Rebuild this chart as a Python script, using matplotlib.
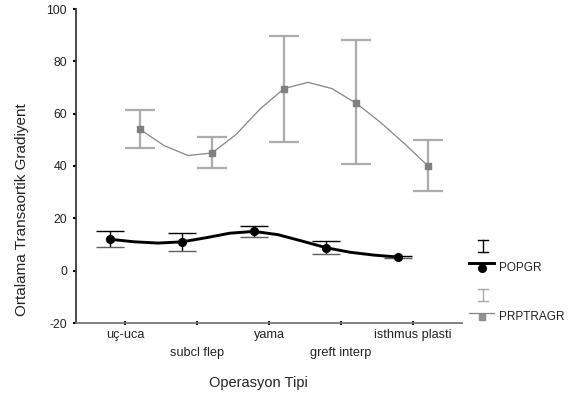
import numpy as np
import matplotlib
matplotlib.use("Agg")
import matplotlib.pyplot as plt
from matplotlib.lines import Line2D

plt.rcParams['font.family'] = ['Liberation Sans', 'DejaVu Sans']

categories = ["uç-uca", "subcl flep", "yama", "greft interp", "isthmus plasti"]
popgr_mean = [12.0, 11.0, 15.0, 8.8, 5.2]
popgr_low = [9.0, 7.4, 12.7, 6.5, 4.9]
popgr_high = [15.2, 14.3, 17.0, 11.3, 5.5]
prp_mean = [54.0, 45.0, 69.6, 64.0, 40.0]
prp_low = [46.7, 39.4, 49.3, 40.7, 30.3]
prp_high = [61.3, 51.0, 89.6, 88.0, 49.8]
yticks = [-20, 0, 20, 40, 60, 80, 100]


def natural_spline(x, y, sub=3):
    x = np.asarray(x, float); y = np.asarray(y, float)
    n = len(x); h = np.diff(x)
    A = np.zeros((n, n)); b = np.zeros(n)
    A[0, 0] = A[-1, -1] = 1
    for i in range(1, n - 1):
        A[i, i - 1] = h[i - 1]; A[i, i] = 2 * (h[i - 1] + h[i]); A[i, i + 1] = h[i]
        b[i] = 3 * ((y[i + 1] - y[i]) / h[i] - (y[i] - y[i - 1]) / h[i - 1])
    c = np.linalg.solve(A, b)
    xs, ys = [], []
    for i in range(n - 1):
        bb = (y[i + 1] - y[i]) / h[i] - h[i] * (2 * c[i] + c[i + 1]) / 3
        d = (c[i + 1] - c[i]) / (3 * h[i])
        for k in range(sub):
            t = h[i] * k / sub
            xs.append(x[i] + t)
            ys.append(y[i] + bb * t + c[i] * t ** 2 + d * t ** 3)
    xs.append(x[-1]); ys.append(y[-1])
    return np.array(xs), np.array(ys)


W, H = 578, 403
fig = plt.figure(figsize=(W / 100, H / 100), dpi=100)
ax = fig.add_axes([76 / W, 1 - 323 / H, (462 - 76) / W, (323 - 9) / H])

pos = np.arange(1, len(categories) + 1)
off = 0.21
xp = pos - off
xr = pos + off

# PRPTRAGR
sx, sy = natural_spline(xr, prp_mean)
ax.plot(sx, sy, color='#858585', lw=0.9, zorder=2)
ax.errorbar(xr, prp_mean,
            yerr=[np.subtract(prp_mean, prp_low), np.subtract(prp_high, prp_mean)],
            fmt='none', ecolor='#ababab', elinewidth=1.6, capsize=10.5, capthick=1.6, zorder=3)
ax.plot(xr, prp_mean, ls='none', marker='s', ms=4.8, color='#808080', zorder=4)

# POPGR
sx, sy = natural_spline(xp, popgr_mean)
ax.plot(sx, sy, color='black', lw=2.1, zorder=5)
ax.errorbar(xp, popgr_mean,
            yerr=[np.subtract(popgr_mean, popgr_low), np.subtract(popgr_high, popgr_mean)],
            fmt='none', ecolor='black', elinewidth=1.0, capsize=0, zorder=6)
ax.plot(xp, popgr_high, ls='none', marker='_', ms=20, mew=1.0, color='black', zorder=6)
ax.plot(xp, popgr_low, ls='none', marker='_', ms=20, mew=1.0, color='#606060', zorder=6)
ax.plot(xp, popgr_mean, ls='none', marker='o', ms=5.6, color='black', zorder=7)

ax.set_xlim(1 - 49 / 72, 5 + 49 / 72)
ax.set_ylim(-20, 100)
ax.set_yticks(yticks)
ax.set_yticklabels([str(v) for v in yticks], fontsize=8.8, color='#222222')
ax.set_xticks(pos)
ax.set_xticklabels([])
for i, lab in enumerate(categories):
    dy = -0.038 if i % 2 == 0 else -0.0955
    ax.text(pos[i], dy, lab, transform=ax.get_xaxis_transform(), ha='center', va='center',
            fontsize=9.2, color='#222222')

for s in ['top', 'right']:
    ax.spines[s].set_visible(False)
ax.spines['left'].set_color('#3a3a3a')
ax.spines['left'].set_linewidth(1.3)
ax.spines['bottom'].set_color('#777777')
ax.spines['bottom'].set_linewidth(1.3)
ax.tick_params(axis='y', direction='out', length=2.5, width=1.5, color='black', pad=4)
ax.tick_params(axis='x', direction='inout', length=2.5, width=1.5, color='black')

fig.text(22 / W, 1 - 210 / H, "Ortalama Transaortik Gradiyent", rotation=90,
         ha='center', va='center', fontsize=11, color='#222222')
fig.text(258 / W, 1 - 383 / H, "Operasyon Tipi", ha='center', va='center',
         fontsize=10.5, color='#222222')

# Legend (drawn in figure pixels)
def fx(px):
    return px / W

def fy(py):
    return 1 - py / H

# POPGR entry
fig.add_artist(Line2D([fx(483), fx(483)], [fy(240), fy(252)], color='black', lw=1.0))
fig.add_artist(Line2D([fx(478), fx(488)], [fy(240), fy(240)], color='black', lw=1.0))
fig.add_artist(Line2D([fx(478), fx(488)], [fy(252), fy(252)], color='black', lw=1.0))
fig.add_artist(Line2D([fx(469), fx(494)], [fy(263), fy(263)], color='black', lw=2.1))
fig.add_artist(Line2D([fx(482)], [fy(268)], marker='o', ms=5.5, color='black', ls='none'))
fig.text(fx(499), fy(268), "POPGR", ha='left', va='center', fontsize=8.5, color='#222222')

# PRPTRAGR entry
fig.add_artist(Line2D([fx(483), fx(483)], [fy(289), fy(301)], color='#ababab', lw=1.0))
fig.add_artist(Line2D([fx(478), fx(488)], [fy(289), fy(289)], color='#ababab', lw=1.0))
fig.add_artist(Line2D([fx(478), fx(488)], [fy(301), fy(301)], color='#ababab', lw=1.0))
fig.add_artist(Line2D([fx(469), fx(494)], [fy(313), fy(313)], color='#858585', lw=0.9))
fig.add_artist(Line2D([fx(482)], [fy(317)], marker='s', ms=4.2, color='#909090', ls='none'))
fig.text(fx(499), fy(317), "PRPTRAGR", ha='left', va='center', fontsize=8.5, color='#222222')

fig.savefig("out.png", dpi=100)
